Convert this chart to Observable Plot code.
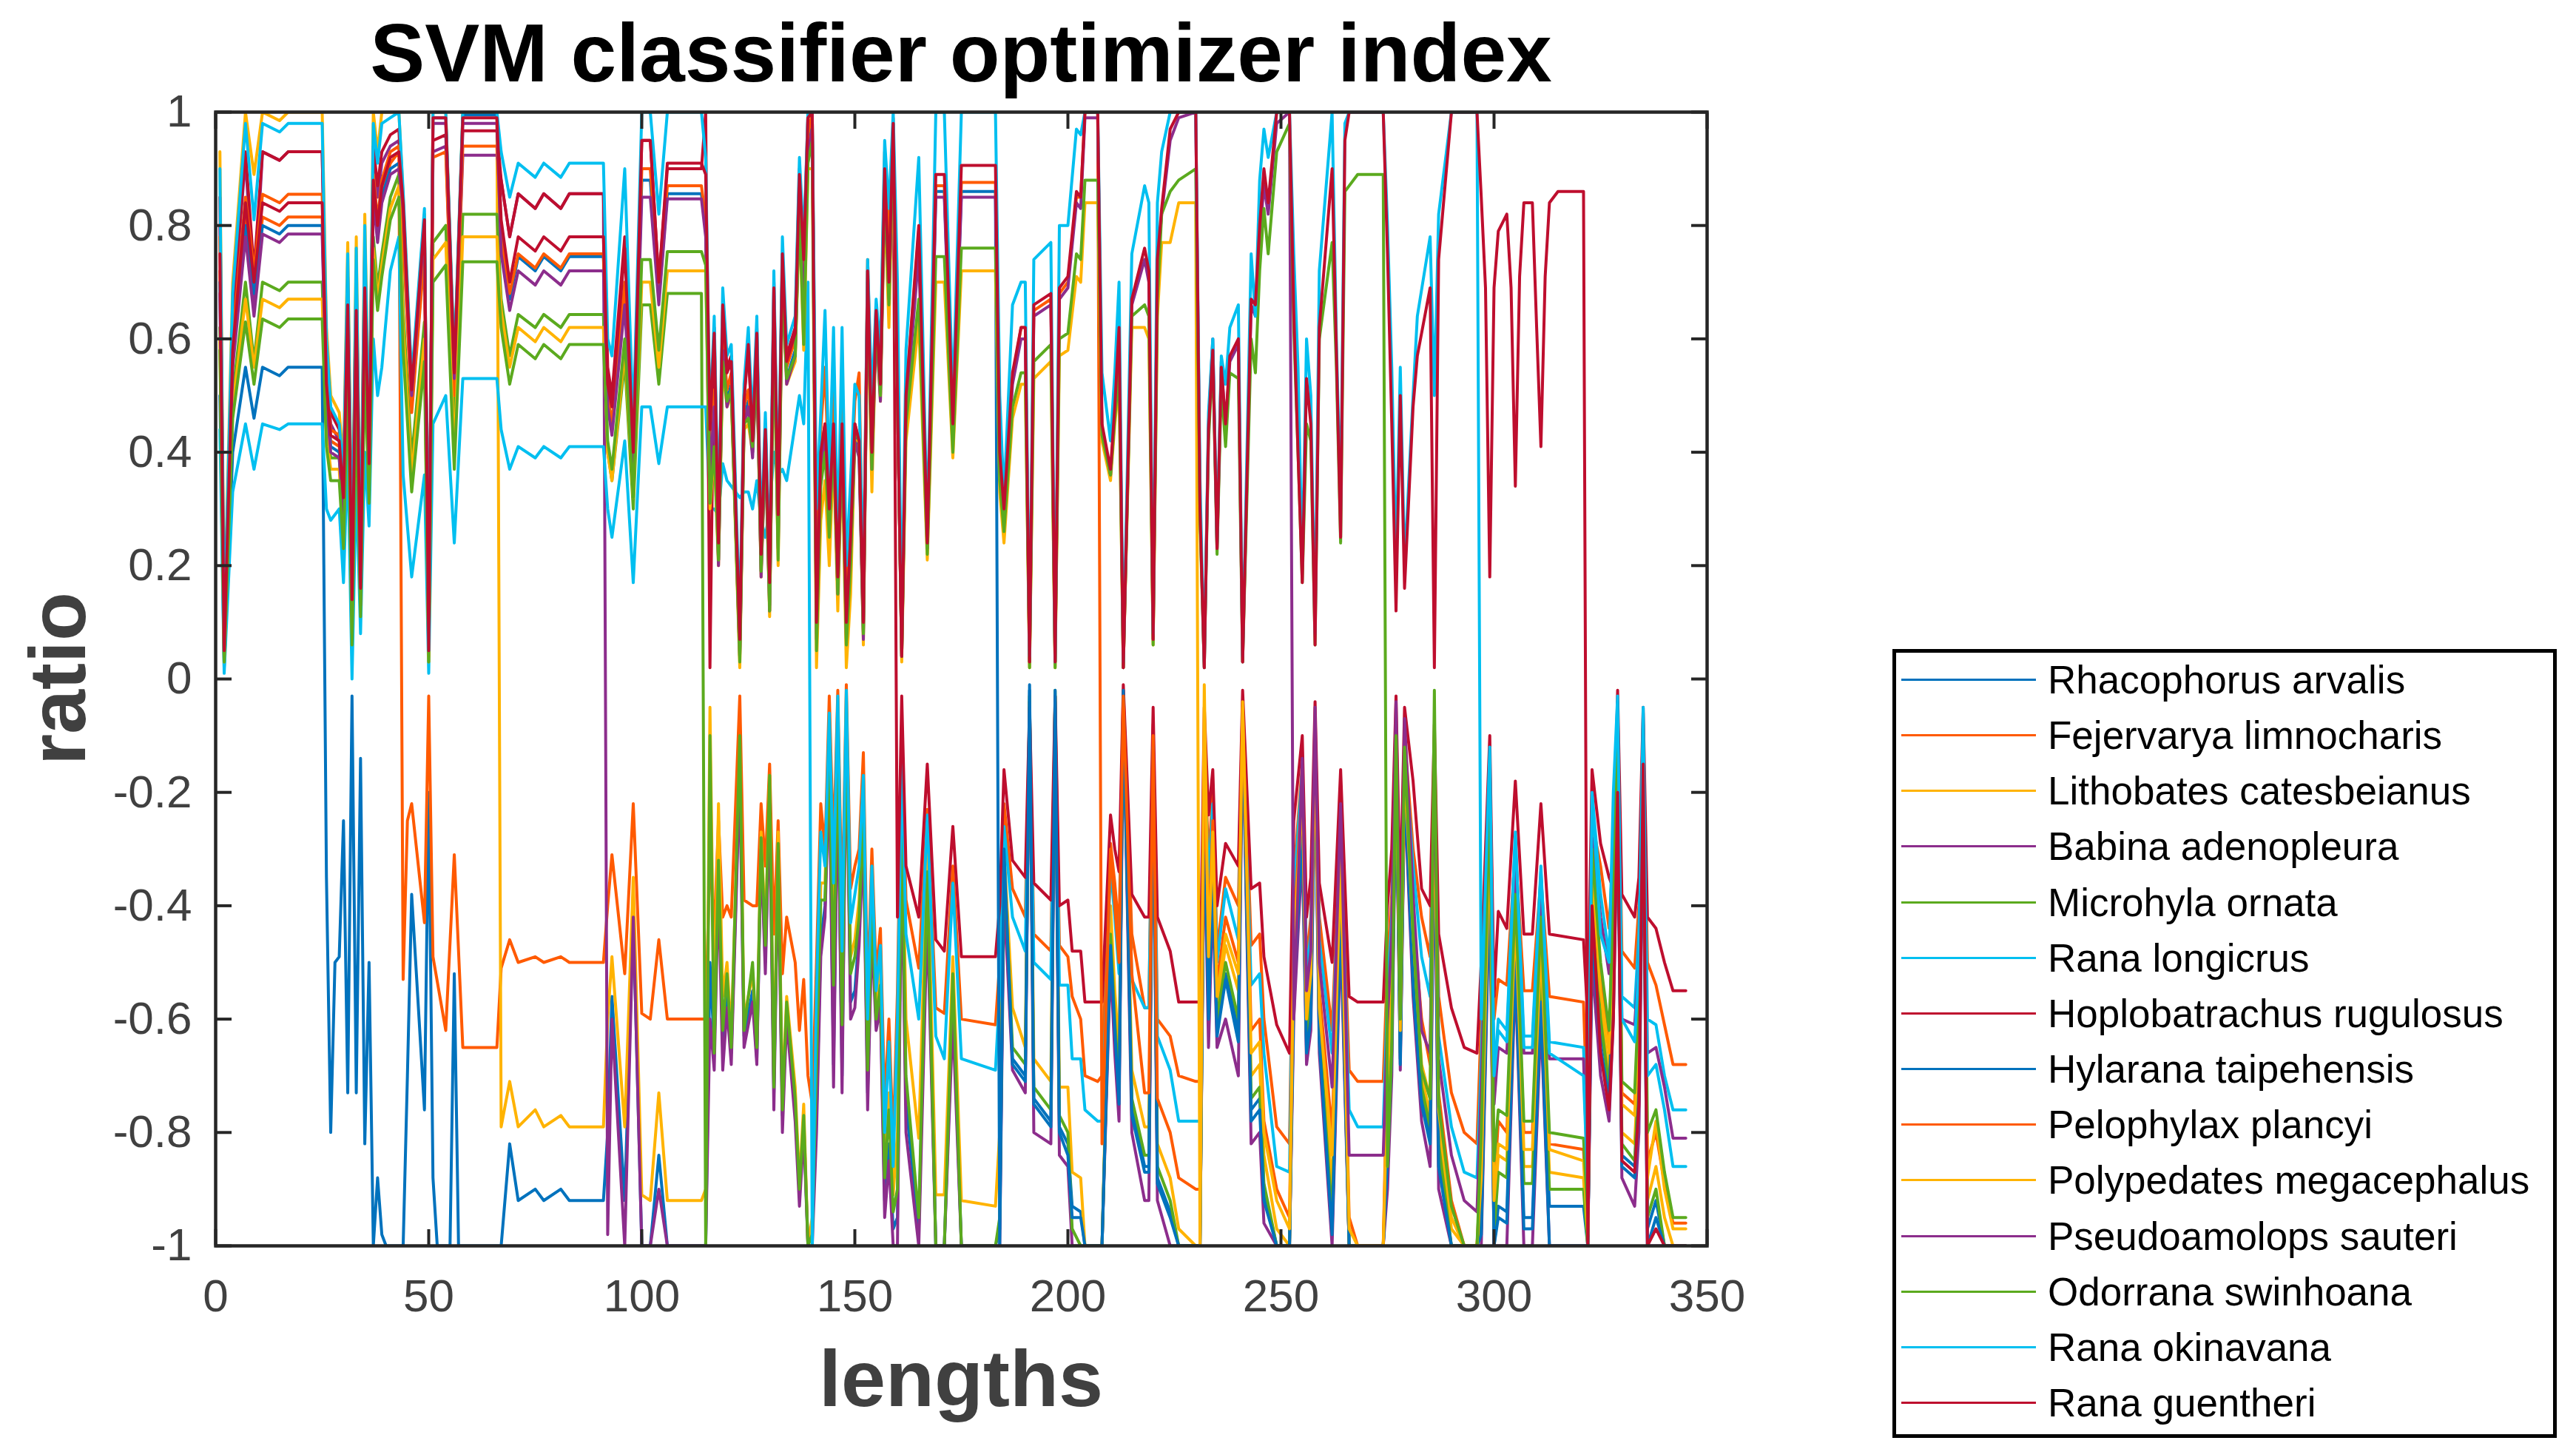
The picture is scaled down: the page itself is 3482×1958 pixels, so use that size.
<!DOCTYPE html>
<html><head><meta charset="utf-8">
<script src="https://cdn.jsdelivr.net/npm/d3@7"></script>
<script src="https://cdn.jsdelivr.net/npm/@observablehq/plot@0.6"></script>
<style>
html,body{margin:0;padding:0;background:#fff;}
#wrap{position:relative;width:3482px;height:1958px;overflow:hidden;font-family:"Liberation Sans",Arial,sans-serif;}
#plot{position:absolute;left:0;top:0;}
.title{position:absolute;left:291px;width:2016px;top:17px;height:110px;line-height:110px;text-align:center;font-weight:bold;font-size:111px;color:#000;white-space:nowrap;}
.xlabel{position:absolute;left:291px;width:2016px;top:1809px;height:108px;line-height:108px;text-align:center;font-weight:bold;font-size:108px;color:#404040;}
.ylabel{position:absolute;left:-688px;width:1532px;top:863px;height:108px;line-height:108px;text-align:center;font-weight:bold;font-size:108px;color:#404040;transform:rotate(-90deg);transform-origin:50% 50%;}
.legend{position:absolute;left:2558px;top:877px;width:898px;height:1066px;box-sizing:border-box;border:5px solid #000;background:#fff;}
.lrow{position:absolute;left:0;height:60px;width:880px;}
.lline{position:absolute;left:7px;width:182px;top:28px;height:0;border-top:3.5px solid #000;}
.ltext{position:absolute;left:205px;top:0;height:60px;line-height:60px;font-size:53px;color:#000;white-space:nowrap;}
</style>
</head><body>
<div id="wrap">
  <div id="plot"></div>
  <div class="title">SVM classifier optimizer index</div>
  <div class="xlabel">lengths</div>
  <div class="ylabel">ratio</div>
  <div class="legend" id="legend"></div>
</div>
<script>
const seriesNames = ["Rhacophorus arvalis","Fejervarya limnocharis","Lithobates catesbeianus","Babina adenopleura","Microhyla ornata","Rana longicrus","Hoplobatrachus rugulosus","Hylarana taipehensis","Pelophylax plancyi","Polypedates megacephalus","Pseudoamolops sauteri","Odorrana swinhoana","Rana okinavana","Rana guentheri"];
const seriesColors = ["#0072BD","#FF5A00","#FFB300","#8C2D8C","#5BAA1E","#00BFF0","#BE0E2E","#0072BD","#FF5A00","#FFB300","#8C2D8C","#5BAA1E","#00BFF0","#BE0E2E"];
const xTicks = [0,50,100,150,200,250,300,350];
const xTickLabels = ["0","50","100","150","200","250","300","350"];
const yTicks = [-1,-0.8,-0.6,-0.4,-0.2,0,0.2,0.4,0.6,0.8,1];
const yTickLabels = ["-1","-0.8","-0.6","-0.4","-0.2","0","0.2","0.4","0.6","0.8","1"];

// each series: flat list of (length, ratio) pairs
const rhacophorusArvalis = [1,.5,2,.02,4,.4,7,.55,9,.46,11,.55,15,.535,17,.55,25,.55,
26,-.35,27,-.8,28,-.5,29,-.49,30,-.25,31,-.73,32,-.03,33,-.73,34,-.14,35,-.82,36,-.5,37,-1,38,-.88,39,-.98,40,-1,43,-1,
44,-1,45,-.7,46,-.38,49,-.76,50,-.2,51,-.88,52,-1,55,-1,56,-.52,57,-1,66,-1,
67,-1,69,-.82,71,-.92,75,-.9,77,-.92,81,-.9,83,-.92,91,-.92,
92,-.8,93,-.56,96,-.92,98,-.42,100,-1,102,-1,104,-.84,106,-1,114,-1,
115,-1,116,-.5,117,-.65,118,-.3,119,-.65,120,-.55,121,-.66,123,-.15,124,-.63,126,-.55,127,-.67,128,-.29,129,-.5,130,-.2,131,-.73,132,-.3,133,-.77,134,-.58,136,-.75,137,-.91,138,-.78,139,-1,
140,-.97,141,-.77,142,-.46,143,-.4,144,-.14,145,-.68,146,-.14,147,-.7,148,-.07,149,-.57,150,-.55,151,-.45,152,-.26,153,-.73,154,-.43,155,-.6,156,-.56,157,-.92,158,-.82,159,-.97,
160,-.95,161,-.27,162,-.75,165,-.97,167,-.37,169,-1,171,-1,173,-.56,175,-1,183,-1,
184,-.97,185,-.34,187,-.67,190,-.7,191,-.02,192,-.74,196,-.78,197,-.03,198,-.79,200,-.82,201,-.93,203,-.94,204,-1,207,-1,
208,-1,210,-.46,211,-.61,212,-.74,213,-.03,215,-.75,218,-.86,219,-.86,220,-.12,221,-.88,224,-.94,226,-1,230,-1,
231,-1,232,-.2,233,-.57,234,-.33,235,-.62,237,-.52,240,-.62,241,-.06,243,-.76,245,-.74,246,-.9,249,-1,252,-1,
253,-.55,255,-.26,256,-.65,257,-.58,258,-.12,259,-.63,262,-.97,264,-.4,266,-1,274,-1,
275,-.82,276,-.64,277,-.12,278,-.67,279,-.17,281,-.52,283,-.73,285,-.8,286,-.2,287,-.84,290,-1,296,-1,
297,-.97,299,-.3,300,-1,301,-.93,303,-.94,305,-.48,307,-.95,309,-.95,311,-.55,313,-.93,321,-.93,
322,-1,323,-.42,325,-.62,327,-.71,328,-.3,329,-.06,330,-.84,333,-.86,334,-.72,335,-.08,336,-.97,338,-.92,340,-1,345,-1];

const fejervaryaLimnocharis = [1,.72,2,.05,4,.57,7,.81,9,.69,11,.815,15,.8,17,.815,25,.815,
26,.51,27,.42,29,.41,30,.31,31,.65,32,.13,33,.64,34,.15,35,.68,36,.37,37,.87,38,.79,39,.86,41,.91,43,.93,
44,-.53,45,-.25,46,-.22,49,-.43,50,-.03,51,-.49,54,-.62,56,-.31,58,-.65,66,-.65,
67,-.51,69,-.46,71,-.5,75,-.49,77,-.5,81,-.49,83,-.5,91,-.5,
92,-.4,93,-.31,96,-.52,98,-.22,100,-.59,102,-.6,104,-.46,106,-.6,114,-.6,
115,-.6,116,-.3,117,-.45,118,-.25,119,-.42,120,-.4,121,-.42,123,-.03,124,-.39,126,-.4,127,-.4,128,-.22,129,-.33,130,-.15,131,-.45,132,-.25,133,-.52,134,-.42,136,-.5,137,-.62,138,-.53,139,-.7,
140,-.75,141,-.5,142,-.22,143,-.3,144,-.03,145,-.3,146,-.02,147,-.42,148,-.01,149,-.37,150,-.33,151,-.3,152,-.13,153,-.56,154,-.3,155,-.52,156,-.44,157,-.75,158,-.6,159,-.82,
160,-.55,161,-.1,162,-.39,165,-.51,167,-.23,169,-.58,171,-.59,173,-.33,175,-.6,183,-.61,
184,-.5,185,-.22,187,-.37,190,-.42,191,-.06,192,-.45,196,-.48,197,-.04,198,-.47,200,-.49,201,-.56,203,-.6,204,-.7,207,-.71,
208,-.7,210,-.29,211,-.36,212,-.45,213,-.02,215,-.45,218,-.58,219,-.58,220,-.08,221,-.6,224,-.63,226,-.7,230,-.71,
231,-.71,232,-.1,233,-.32,234,-.2,235,-.48,237,-.35,240,-.4,241,-.04,243,-.47,245,-.45,246,-.6,249,-.79,252,-.82,
253,-.35,255,-.15,256,-.5,257,-.42,258,-.08,259,-.42,262,-.62,264,-.25,266,-.69,268,-.71,274,-.71,
275,-.5,276,-.38,277,-.07,278,-.45,279,-.1,281,-.3,283,-.42,285,-.49,286,-.1,287,-.56,290,-.73,293,-.8,296,-.82,
297,-.6,299,-.15,300,-.6,301,-.53,303,-.54,305,-.3,307,-.55,309,-.55,311,-.35,313,-.56,321,-.57,
322,-.8,323,-.25,325,-.33,327,-.44,328,-.3,329,-.05,330,-.48,333,-.51,334,-.4,335,-.08,336,-.5,338,-.54,340,-.61,342,-.68,345,-.68];

const lithobatesCatesbeianus = [1,.93,2,.1,4,.7,7,1,9,.89,11,1,15,.985,17,1,25,1,
26,.62,27,.5,29,.47,30,.38,31,.77,32,.2,33,.78,34,.2,35,.82,36,.42,37,1,38,.93,39,1,41,1,43,1,
44,.85,46,.52,49,.82,50,.05,51,1,54,1,56,.55,58,1,66,1,
67,-.79,69,-.71,71,-.79,75,-.76,77,-.79,81,-.77,83,-.79,91,-.79,
92,-.6,93,-.49,96,-.79,98,-.35,100,-.91,102,-.92,104,-.73,106,-.92,114,-.92,
115,-.9,116,-.05,117,-.6,118,-.22,119,-.56,120,-.5,121,-.63,123,-.12,124,-.6,126,-.52,127,-.64,128,-.27,129,-.45,130,-.17,131,-.7,132,-.27,133,-.74,134,-.56,136,-.72,137,-.89,138,-.75,139,-1,
140,-.95,141,-.65,142,-.36,143,-.36,144,-.1,145,-.51,146,-.08,147,-.58,148,-.05,149,-.49,150,-.46,151,-.39,152,-.21,153,-.66,154,-.38,155,-.57,156,-.51,157,-.85,158,-.73,159,-.91,
160,-.8,161,-.2,162,-.6,165,-.81,167,-.29,169,-.91,171,-.91,173,-.49,175,-.92,183,-.93,
184,-.8,185,-.3,187,-.58,190,-.65,191,-.04,192,-.67,196,-.71,197,-.03,198,-.72,200,-.72,201,-.87,203,-.88,204,-1,207,-1,
208,-1,210,-.4,211,-.55,212,-.66,213,-.04,215,-.69,218,-.79,219,-.79,220,-.13,221,-.82,224,-.88,226,-.97,230,-1,
231,-1,232,-.17,233,-.52,234,-.3,235,-.58,237,-.47,240,-.55,241,-.07,243,-.7,245,-.68,246,-.84,249,-.97,252,-1,
253,-.5,255,-.22,256,-.62,257,-.54,258,-.12,259,-.6,262,-.9,264,-.35,266,-1,274,-1,
275,-.75,276,-.58,277,-.12,278,-.64,279,-.16,281,-.48,283,-.7,285,-.77,286,-.2,287,-.79,290,-.97,293,-1,296,-1,
297,-.92,299,-.27,300,-.95,301,-.84,303,-.85,305,-.44,307,-.86,309,-.86,311,-.5,313,-.87,321,-.88,
322,-1,323,-.38,325,-.58,327,-.7,328,-.5,329,-.16,330,-.8,333,-.82,334,-.66,335,-.16,336,-.92,338,-.86,340,-.95,342,-1,345,-1];

const babinaAdenopleura = [1,.8,2,.06,4,.63,7,.92,9,.66,11,.93,15,.915,17,.93,25,.93,
26,.55,27,.45,29,.42,30,.33,31,.69,32,.15,33,.7,34,.16,35,.74,36,.38,37,.92,38,.85,39,.91,41,.94,43,.95,
44,.79,46,.48,49,.76,50,.05,51,.93,54,.94,56,.51,58,.924,66,.924,
67,.88,69,.78,71,.856,75,.83,77,.856,81,.83,83,.856,91,.856,
92,-.98,93,-.6,96,-1,98,-.42,100,-1,102,-1,104,-.9,106,-1,114,-1,
115,-1,116,-.6,117,-.69,118,-.36,119,-.69,120,-.58,121,-.68,123,-.17,124,-.65,126,-.57,127,-.68,128,-.3,129,-.52,130,-.22,131,-.76,132,-.32,133,-.8,134,-.6,136,-.78,137,-.93,138,-.8,139,-1,
140,-1,141,-.8,142,-.49,143,-.42,144,-.16,145,-.72,146,-.16,147,-.73,148,-.08,149,-.6,150,-.58,151,-.47,152,-.28,153,-.76,154,-.45,155,-.62,156,-.58,157,-.95,158,-.85,159,-1,
160,-1,161,-.3,162,-.8,165,-1,167,-.42,169,-1,171,-1,173,-.6,175,-1,183,-1,
184,-1,185,-.38,187,-.69,190,-.73,191,-.04,192,-.8,196,-.82,197,-.05,198,-.84,200,-.86,201,-1,207,-1,
208,-1,210,-.5,211,-.66,212,-.78,213,-.05,215,-.8,218,-.92,219,-.92,220,-.15,221,-.92,224,-1,230,-1,
231,-1,232,-.25,233,-.65,234,-.38,235,-.65,237,-.6,240,-.7,241,-.08,243,-.82,245,-.8,246,-.96,249,-1,252,-1,
253,-.6,255,-.3,256,-.68,257,-.62,258,-.15,259,-.66,262,-1,264,-.45,266,-1,274,-1,
275,-.9,276,-.7,277,-.15,278,-.69,279,-.2,281,-.56,283,-.78,285,-.86,286,-.25,287,-.9,290,-1,296,-1,
297,-1,299,-.35,300,-1,301,-1,303,-1,305,-.52,307,-1,309,-1,311,-.6,313,-1,321,-1,
322,-1,323,-.5,325,-.7,327,-.78,328,-.6,329,-.22,330,-.88,333,-.93,334,-.8,335,-.22,336,-1,338,-1,345,-1];

const microhylaOrnata = [1,.62,2,.03,4,.5,7,.7,9,.56,11,.7,15,.685,17,.7,25,.7,
26,.45,27,.39,29,.39,30,.27,31,.57,32,.1,33,.54,34,.15,35,.59,36,.35,37,.78,38,.69,39,.75,41,.85,43,.89,
44,.65,46,.39,49,.63,50,.04,51,.77,54,.8,56,.43,58,.82,66,.82,
67,.67,69,.57,71,.643,75,.62,77,.643,81,.62,83,.643,91,.643,
92,.4,93,.35,96,.56,98,.3,100,.66,102,.66,104,.52,106,.68,114,.68,
115,-1,116,-.1,117,-.66,118,-.32,119,-.62,120,-.52,121,-.65,123,-.1,124,-.62,126,-.5,127,-.65,128,-.28,129,-.47,130,-.17,131,-.72,132,-.29,133,-.76,134,-.57,136,-.74,137,-.9,138,-.77,139,-1,
140,-.98,141,-.68,142,-.39,143,-.39,144,-.13,145,-.54,146,-.11,147,-.61,148,-.08,149,-.52,150,-.49,151,-.42,152,-.24,153,-.69,154,-.41,155,-.6,156,-.54,157,-.88,158,-.76,159,-.94,
160,-.9,161,-.25,162,-.7,165,-.95,167,-.34,169,-1,171,-1,173,-.52,175,-1,183,-1,
184,-.95,185,-.32,187,-.65,190,-.68,191,-.03,192,-.72,196,-.76,197,-.02,198,-.77,200,-.8,201,-.97,203,-1,207,-1,
208,-1,210,-.45,211,-.6,212,-.72,213,-.03,215,-.74,218,-.84,219,-.84,220,-.14,221,-.86,224,-.92,226,-1,230,-1,
231,-1,232,-.2,233,-.55,234,-.32,235,-.6,237,-.5,240,-.6,241,-.05,243,-.74,245,-.72,246,-.89,249,-1,252,-1,
253,-.52,255,-.25,256,-.64,257,-.56,258,-.1,259,-.62,262,-.95,264,-.38,266,-1,274,-1,
275,-.8,276,-.6,277,-.1,278,-.66,279,-.15,281,-.5,283,-.72,285,-.79,286,-.18,287,-.82,290,-1,296,-1,
297,-.95,299,-.3,300,-.98,301,-.87,303,-.88,305,-.46,307,-.89,309,-.89,311,-.52,313,-.9,321,-.9,
322,-1,323,-.4,325,-.6,327,-.72,328,-.52,329,-.18,330,-.82,333,-.85,334,-.7,335,-.18,336,-.95,338,-.9,340,-1,345,-1];

const ranaLongicrus = [1,.44,2,.01,4,.33,7,.45,9,.37,11,.45,15,.44,17,.45,25,.45,
26,.3,27,.28,29,.3,30,.17,31,.4,32,0,33,.35,34,.08,35,.4,36,.27,37,.6,38,.5,39,.55,41,.72,43,.78,
44,.36,46,.18,49,.36,50,.01,51,.45,54,.5,56,.24,58,.53,66,.53,
67,.44,69,.37,71,.41,75,.39,77,.41,81,.39,83,.41,91,.41,
92,.3,93,.25,96,.42,98,.17,100,.48,102,.48,104,.38,106,.48,114,.48,
115,.48,116,.3,117,.3,118,.29,119,.38,120,.35,121,.34,123,.32,124,.33,125,.33,126,.3,127,.35,128,.28,129,.25,130,.3,131,.4,132,.36,133,.37,134,.35,136,.45,137,.5,138,.45,139,.7,
140,-1,141,-.55,142,-.27,143,-.33,144,-.06,145,-.36,146,-.03,147,-.48,148,-.02,149,-.43,150,-.38,151,-.33,152,-.17,153,-.6,154,-.33,155,-.55,156,-.47,157,-.8,158,-.64,159,-.86,
160,-.6,161,-.15,162,-.45,165,-.6,167,-.24,169,-.63,171,-.67,173,-.36,175,-.67,183,-.69,
184,-.55,185,-.26,187,-.42,190,-.48,191,-.06,192,-.5,196,-.53,197,-.04,198,-.54,200,-.54,201,-.67,203,-.67,204,-.76,207,-.78,
208,-.78,210,-.33,211,-.42,212,-.52,213,-.03,215,-.53,218,-.58,219,-.58,220,-.1,221,-.63,224,-.69,226,-.78,230,-.78,
231,-.78,232,-.12,233,-.36,234,-.22,235,-.5,237,-.37,240,-.46,241,-.05,243,-.54,245,-.52,246,-.66,249,-.86,252,-.87,
253,-.38,255,-.16,256,-.52,257,-.45,258,-.09,259,-.46,262,-.66,264,-.27,266,-.76,268,-.79,274,-.79,
275,-.55,276,-.42,277,-.08,278,-.5,279,-.12,281,-.33,283,-.49,285,-.56,286,-.12,287,-.63,290,-.79,293,-.87,296,-.88,
297,-.67,299,-.14,300,-.7,301,-.6,303,-.62,305,-.28,307,-.63,309,-.63,311,-.34,313,-.64,321,-.65,
322,-.85,323,-.2,325,-.38,327,-.49,328,-.25,329,-.04,330,-.56,333,-.58,334,-.45,335,-.06,336,-.6,338,-.61,340,-.7,342,-.76,345,-.76];

const hoplobatrachusRugulosus = [1,.85,2,.07,4,.65,7,.93,9,.72,11,.93,15,.915,17,.93,25,.93,
26,.57,27,.47,29,.44,30,.35,31,.71,32,.17,33,.72,34,.18,35,.76,36,.4,37,.94,38,.87,39,.93,41,.96,43,.97,
44,.8,46,.49,49,.77,50,.05,51,.95,54,.96,56,.52,58,.967,66,.967,
67,.88,69,.78,71,.856,75,.83,77,.856,81,.83,83,.856,91,.856,
92,.55,93,.5,96,.78,98,.42,100,.95,102,.95,104,.7,106,.9,114,.9,
115,1,116,.02,117,.62,118,.25,119,.65,120,.55,121,.57,123,.05,124,.5,125,.58,126,.43,127,.62,128,.22,129,.45,130,.15,131,.7,132,.28,133,.75,134,.57,136,.62,137,.9,138,.75,139,1,
140,1,141,.1,142,.4,143,.45,144,.3,145,.46,146,.18,147,.46,148,.1,149,.25,150,.45,151,.42,152,.1,153,.72,154,.4,155,.65,156,.52,157,.9,158,.7,159,.98,
160,-.42,161,-.03,162,-.33,165,-.42,167,-.15,169,-.46,171,-.48,173,-.26,175,-.49,183,-.49,
184,-.4,185,-.16,187,-.32,190,-.35,191,-.05,192,-.36,196,-.39,197,-.03,198,-.4,200,-.39,201,-.48,203,-.48,204,-.57,207,-.57,
208,-.57,210,-.24,211,-.3,212,-.34,213,-.01,215,-.38,218,-.42,219,-.42,220,-.05,221,-.42,224,-.48,226,-.57,230,-.57,
231,-.57,232,-.05,233,-.24,234,-.16,235,-.4,237,-.29,240,-.33,241,-.02,243,-.37,245,-.36,246,-.49,249,-.61,252,-.66,
253,-.25,255,-.1,256,-.42,257,-.35,258,-.04,259,-.36,262,-.5,264,-.16,266,-.56,268,-.57,274,-.57,
275,-.4,276,-.3,277,-.03,278,-.39,279,-.05,281,-.18,283,-.37,285,-.4,286,-.08,287,-.45,290,-.58,293,-.65,296,-.66,
297,-.5,299,-.1,300,-.56,301,-.41,303,-.44,305,-.18,307,-.45,309,-.45,311,-.22,313,-.45,321,-.46,
322,-.6,323,-.16,325,-.29,327,-.35,328,-.37,329,-.02,330,-.38,333,-.42,334,-.35,335,-.05,336,-.42,338,-.44,340,-.5,342,-.55,345,-.55];

const hylaranaTaipehensis = [1,.7,2,.05,4,.56,7,.8,9,.68,11,.8,15,.785,17,.8,25,.8,
26,.5,27,.41,29,.4,30,.3,31,.64,32,.12,33,.63,34,.14,35,.67,36,.36,37,.86,38,.78,39,.85,41,.9,43,.91,
44,.84,46,.51,49,.81,50,.05,51,.99,54,.99,56,.54,58,.995,66,.995,
67,.77,69,.67,71,.745,75,.72,77,.745,81,.72,83,.745,91,.745,
92,.5,93,.45,96,.68,98,.38,100,.88,102,.88,104,.67,106,.856,114,.856,
115,.79,116,.37,117,.49,118,.21,119,.59,120,.49,121,.52,123,.04,124,.46,125,.49,126,.4,127,.57,128,.19,129,.42,130,.13,131,.65,132,.24,133,.72,134,.53,136,.58,137,.85,138,.65,139,.94,
140,.98,141,.08,142,.38,143,.43,144,.28,145,.44,146,.16,147,.44,148,.08,149,.23,150,.43,151,.4,152,.08,153,.7,154,.38,155,.64,156,.51,157,.88,158,.68,159,.97,
160,.5,161,.04,162,.48,165,.78,167,.23,169,.86,171,.86,173,.43,175,.86,183,.86,
184,-1,185,-.3,187,-.68,190,-.71,191,-.01,192,-.75,196,-.79,197,-.02,198,-.8,200,-.84,201,-.95,203,-.95,204,-1,207,-1,
208,-1,210,-.47,211,-.62,212,-.75,213,-.02,215,-.77,218,-.87,219,-.87,220,-.12,221,-.89,224,-.95,226,-1,230,-1,
231,-1,232,-.22,233,-.6,234,-.35,235,-.63,237,-.53,240,-.64,241,-.06,243,-.78,245,-.76,246,-.92,249,-1,252,-1,
253,-.56,255,-.27,256,-.66,257,-.6,258,-.13,259,-.64,262,-.98,264,-.41,266,-1,274,-1,
275,-.85,276,-.66,277,-.13,278,-.68,279,-.18,281,-.54,283,-.75,285,-.82,286,-.22,287,-.86,290,-1,296,-1,
297,-.98,299,-.32,300,-1,301,-.95,303,-.96,305,-.5,307,-.97,309,-.97,311,-.57,313,-1,321,-1,
322,-1,323,-.45,325,-.65,327,-.74,328,-.55,329,-.2,330,-.86,333,-.88,334,-.74,335,-.2,336,-1,338,-.95,340,-1,345,-1];

const pelophylaxPlancyi = [1,.78,2,.06,4,.6,7,.85,9,.72,11,.855,15,.84,17,.855,25,.855,
26,.53,27,.44,29,.43,30,.33,31,.67,32,.15,33,.66,34,.17,35,.7,36,.39,37,.89,38,.81,39,.88,41,.93,43,.94,
44,.78,46,.47,49,.75,50,.04,51,.92,54,.93,56,.5,58,.94,66,.94,
67,.78,69,.68,71,.75,75,.725,77,.75,81,.725,83,.75,91,.75,
92,.5,93,.45,96,.7,98,.4,100,.9,102,.9,104,.68,106,.87,114,.87,
115,.81,116,.39,117,.51,118,.23,119,.61,120,.51,121,.54,123,.06,124,.48,125,.51,126,.42,127,.59,128,.21,129,.44,130,.15,131,.67,132,.26,133,.74,134,.55,136,.6,137,.87,138,.67,139,.96,
140,1,141,.2,142,.44,143,.55,144,.33,145,.54,146,.2,147,.54,148,.15,149,.3,150,.49,151,.54,152,.13,153,.74,154,.45,155,.66,156,.55,157,.93,158,.77,159,.99,
160,.5,161,.05,162,.5,165,.79,167,.24,169,.87,171,.87,173,.44,175,.876,183,.876,
184,.38,185,.29,187,.53,189,.62,190,.62,191,.03,192,.65,196,.67,197,.03,198,.68,200,.7,202,.85,203,.85,204,1,207,1,
208,-.82,210,-.3,211,-.4,212,-.5,213,-.03,215,-.52,218,-.73,219,-.73,220,-.1,221,-.74,224,-.8,226,-.88,230,-.9,
231,-.9,232,-.15,233,-.45,234,-.25,235,-.54,237,-.42,240,-.5,241,-.05,243,-.62,245,-.6,246,-.78,249,-.9,252,-.95,
253,-.45,255,-.18,256,-.58,257,-.5,258,-.1,259,-.55,262,-.8,264,-.3,266,-.95,268,-1,274,-1,
275,-.65,276,-.5,277,-.1,278,-.58,279,-.14,281,-.42,283,-.6,285,-.68,286,-.15,287,-.73,290,-.92,293,-1,296,-1,
297,-.85,299,-.22,300,-.9,301,-.78,303,-.8,305,-.4,307,-.8,309,-.8,311,-.45,313,-.82,321,-.83,
322,-.97,323,-.32,325,-.52,327,-.64,328,-.42,329,-.12,330,-.73,333,-.75,334,-.6,335,-.12,336,-.85,338,-.8,340,-.89,342,-.96,345,-.96];

const polypedatesMegacephalus = [1,.6,2,.03,4,.48,7,.67,9,.55,11,.67,15,.655,17,.67,25,.67,
26,.43,27,.37,29,.37,30,.25,31,.55,32,.08,33,.52,34,.13,35,.57,36,.33,37,.76,38,.67,39,.73,41,.83,43,.87,
44,.62,46,.36,49,.6,50,.03,51,.74,54,.77,56,.4,58,.78,66,.78,
67,.65,69,.55,71,.62,75,.595,77,.62,81,.595,83,.62,91,.62,
92,.4,93,.35,96,.58,98,.32,100,.7,102,.7,104,.55,106,.72,114,.72,
115,.72,116,.3,117,.4,118,.2,119,.55,120,.48,121,.5,123,.02,124,.44,125,.45,126,.4,127,.55,128,.18,129,.42,130,.11,131,.62,132,.2,133,.7,134,.52,136,.56,137,.82,138,.58,139,.9,
140,.9,141,.02,142,.28,143,.35,144,.2,145,.4,146,.12,147,.4,148,.02,149,.15,150,.42,151,.42,152,.06,153,.67,154,.33,155,.63,156,.49,157,.85,158,.62,159,.95,
160,.5,161,.03,162,.42,165,.63,167,.21,169,.7,171,.7,173,.39,175,.72,183,.72,
184,.33,185,.24,187,.46,189,.52,190,.52,191,.02,192,.53,196,.56,197,.02,198,.57,200,.58,202,.71,203,.7,204,.84,207,.84,
208,.42,210,.35,211,.45,212,.52,213,.02,215,.62,218,.62,219,.6,220,.06,221,.64,222,.77,224,.77,226,.84,230,.84,
231,-1,232,-.01,233,-.49,234,-.27,235,-.56,237,-.45,240,-.52,241,-.04,243,-.66,245,-.64,246,-.8,249,-.92,252,-.97,
253,-.48,255,-.2,256,-.6,257,-.52,258,-.11,259,-.58,262,-.84,264,-.32,266,-.97,268,-1,274,-1,
275,-.7,276,-.55,277,-.11,278,-.62,279,-.15,281,-.45,283,-.68,285,-.74,286,-.17,287,-.76,290,-.95,293,-1,296,-1,
297,-.88,299,-.25,300,-.92,301,-.82,303,-.83,305,-.42,307,-.83,309,-.83,311,-.47,313,-.83,321,-.85,
322,-.98,323,-.35,325,-.55,327,-.66,328,-.45,329,-.14,330,-.75,333,-.77,334,-.62,335,-.14,336,-.88,338,-.78,340,-.9,342,-.97,345,-.97];

const pseudoamolopsSauteri = [1,.68,2,.04,4,.55,7,.78,9,.64,11,.785,15,.77,17,.785,25,.785,
26,.49,27,.4,29,.39,30,.29,31,.63,32,.11,33,.62,34,.13,35,.66,36,.35,37,.85,38,.77,39,.84,41,.89,43,.9,
44,.83,46,.5,49,.8,50,.05,51,.98,54,.98,56,.53,58,.98,66,.98,
67,.75,69,.65,71,.72,75,.695,77,.72,81,.695,83,.72,91,.72,
92,.48,93,.43,96,.66,98,.37,100,.85,102,.85,104,.66,106,.847,114,.847,
115,.78,116,.36,117,.48,118,.2,119,.58,120,.48,121,.51,123,.04,124,.45,125,.48,126,.39,127,.56,128,.18,129,.41,130,.12,131,.64,132,.23,133,.71,134,.52,136,.57,137,.84,138,.64,139,.93,
140,.97,141,.07,142,.37,143,.42,144,.27,145,.43,146,.15,147,.43,148,.07,149,.22,150,.42,151,.39,152,.07,153,.69,154,.37,155,.62,156,.49,157,.87,158,.67,159,.95,
160,.5,161,.04,162,.47,165,.75,167,.23,169,.85,171,.85,173,.42,175,.85,183,.85,
184,.37,185,.28,187,.52,189,.6,190,.6,191,.03,192,.64,196,.66,197,.03,198,.67,200,.69,202,.84,203,.83,204,.99,207,.99,
208,.44,210,.36,211,.47,212,.6,213,.02,215,.66,218,.74,219,.7,220,.07,221,.73,222,.82,224,.95,226,.99,230,1,
231,.3,232,.02,233,.45,234,.6,235,.23,236,.56,237,.44,238,.56,240,.59,241,.03,243,.66,244,.64,245,.78,246,.87,247,.82,249,.98,252,1,
253,-.6,255,-.14,256,-.55,257,-.48,258,-.05,259,-.5,262,-.72,264,-.22,266,-.84,268,-.84,274,-.84,
275,-.6,276,-.45,277,-.04,278,-.55,279,-.07,281,-.38,283,-.62,285,-.66,286,-.12,287,-.67,290,-.84,293,-.92,296,-.94,
297,-.72,299,-.18,300,-.75,301,-.65,303,-.66,305,-.32,307,-.66,309,-.66,311,-.37,313,-.67,321,-.67,
322,-.9,323,-.28,325,-.42,327,-.52,328,-.35,329,-.08,330,-.6,333,-.61,334,-.5,335,-.1,336,-.66,338,-.65,340,-.72,342,-.81,345,-.81];

const odorranaSwinhoana = [1,.58,2,.03,4,.46,7,.63,9,.52,11,.635,15,.62,17,.635,25,.635,
26,.41,27,.35,29,.35,30,.23,31,.53,32,.06,33,.5,34,.11,35,.55,36,.31,37,.74,38,.65,39,.71,41,.81,43,.85,
44,.58,46,.33,49,.56,50,.03,51,.7,54,.73,56,.37,58,.736,66,.736,
67,.62,69,.52,71,.59,75,.565,77,.59,81,.565,83,.59,91,.59,
92,.42,93,.37,96,.6,98,.32,100,.74,102,.74,104,.58,106,.754,114,.754,
115,.73,116,.31,117,.41,118,.21,119,.56,120,.49,121,.51,123,.03,124,.45,125,.46,126,.41,127,.56,128,.19,129,.43,130,.12,131,.63,132,.21,133,.71,134,.53,136,.57,137,.83,138,.59,139,.91,
140,.95,141,.05,142,.34,143,.4,144,.25,145,.43,146,.15,147,.43,148,.06,149,.2,150,.44,151,.42,152,.08,153,.7,154,.37,155,.64,156,.5,157,.88,158,.66,159,.97,
160,.5,161,.04,162,.45,165,.67,167,.22,169,.745,171,.745,173,.4,175,.76,183,.76,
184,.35,185,.26,187,.48,189,.54,190,.54,191,.02,192,.56,196,.59,197,.02,198,.6,200,.61,202,.75,203,.74,204,.88,207,.88,
208,.43,210,.36,211,.46,212,.54,213,.02,215,.64,218,.66,219,.64,220,.06,221,.67,222,.82,224,.86,226,.88,230,.9,
231,.28,232,.02,233,.42,234,.57,235,.22,236,.52,237,.41,238,.54,240,.53,241,.03,243,.6,244,.54,245,.72,246,.83,247,.75,249,.93,252,.98,
253,.62,254,.4,255,.17,256,.45,257,.42,258,.06,259,.6,262,.77,263,.55,264,.24,265,.86,266,.87,268,.89,274,.89,
275,-.86,276,-.65,277,-.1,278,-.6,279,-.12,281,-.45,283,-.69,285,-.74,286,-.02,287,-.75,290,-.93,293,-1,296,-1,
297,-.8,299,-.2,300,-.85,301,-.76,303,-.77,305,-.38,307,-.78,309,-.78,311,-.42,313,-.8,321,-.81,
322,-.95,323,-.3,325,-.5,327,-.62,328,-.4,329,-.1,330,-.71,333,-.73,334,-.55,335,-.1,336,-.8,338,-.76,340,-.87,342,-.95,345,-.95];

const ranaOkinavana = [1,.9,2,.08,4,.68,7,.98,9,.81,11,.98,15,.965,17,.98,25,.98,
26,.6,27,.48,29,.45,30,.36,31,.75,32,.18,33,.76,34,.18,35,.8,36,.4,37,.98,38,.91,39,.98,41,.99,43,1,
44,.86,46,.53,49,.83,50,.05,51,1,54,1,56,.56,58,1,66,1,
67,.93,69,.85,71,.91,75,.885,77,.91,81,.885,83,.91,91,.91,
92,.6,93,.57,96,.9,98,.45,100,1,102,1,104,.82,106,1,114,1,
115,.92,116,.45,117,.64,118,.27,119,.69,120,.57,121,.59,123,.1,124,.52,125,.62,126,.45,127,.64,128,.25,129,.47,130,.2,131,.72,132,.32,133,.78,134,.59,136,.64,137,.92,138,.77,139,1,
140,1,141,.3,142,.47,143,.65,144,.35,145,.62,146,.23,147,.62,148,.2,149,.35,150,.52,151,.5,152,.16,153,.74,154,.49,155,.67,156,.58,157,.95,158,.83,159,1,
160,.7,161,.08,162,.58,165,.92,167,.26,169,1,171,1,173,.49,175,1,183,1,
184,.5,185,.32,187,.66,189,.7,190,.7,191,.04,192,.74,196,.77,197,.03,198,.8,200,.8,202,.97,203,.96,204,1,207,1,
208,.54,210,.42,211,.54,212,.7,213,.03,215,.75,218,.87,219,.84,220,.08,221,.84,222,.93,224,1,226,1,230,1,
231,.35,232,.03,233,.47,234,.6,235,.24,236,.57,237,.52,238,.62,240,.66,241,.04,243,.75,244,.64,245,.88,246,.97,247,.92,249,1,252,1,
253,.75,254,.55,255,.2,256,.6,257,.5,258,.08,259,.72,262,1,263,.6,264,.3,265,.98,266,1,268,1,274,1,
275,.8,276,.55,277,.2,278,.55,279,.2,281,.5,282,.64,285,.78,286,.5,287,.82,290,1,296,1,
297,-.6,299,-.12,300,-.7,301,-.62,303,-.64,305,-.27,307,-.65,309,-.65,311,-.33,313,-.66,321,-.7,
322,-.9,323,-.2,325,-.45,327,-.5,328,-.2,329,-.03,330,-.6,333,-.64,334,-.5,335,-.05,336,-.7,338,-.68,340,-.76,342,-.86,345,-.86];

const ranaGuentheri = [1,.75,2,.05,4,.58,7,.84,9,.7,11,.84,15,.825,17,.84,25,.84,
26,.52,27,.43,29,.42,30,.32,31,.66,32,.14,33,.65,34,.16,35,.69,36,.38,37,.88,38,.8,39,.87,41,.92,43,.93,
44,.84,46,.51,49,.81,50,.05,51,.99,54,.99,56,.54,58,.99,66,.99,
67,.81,69,.7,71,.78,75,.755,77,.78,81,.755,83,.78,91,.78,
92,.52,93,.48,96,.76,98,.4,100,.95,102,.95,104,.7,106,.91,114,.91,
115,.89,116,.44,117,.61,118,.24,119,.66,120,.54,121,.56,123,.07,124,.49,125,.59,126,.42,127,.61,128,.22,129,.44,130,.17,131,.69,132,.29,133,.75,134,.56,136,.61,137,.89,138,.74,139,.99,
140,1,141,.1,142,.4,143,.45,144,.3,145,.45,146,.18,147,.45,148,.1,149,.25,150,.45,151,.42,152,.1,153,.72,154,.4,155,.65,156,.52,157,.9,158,.7,159,.98,
160,.5,161,.04,162,.5,165,.8,167,.24,169,.89,171,.89,173,.45,175,.906,183,.906,
184,.4,185,.3,187,.54,189,.62,190,.62,191,.03,192,.66,196,.68,197,.03,198,.69,200,.71,202,.86,203,.85,204,1,207,1,
208,.45,210,.37,211,.48,212,.62,213,.02,215,.67,218,.76,219,.72,220,.07,221,.74,222,.83,224,.97,226,1,230,1,
231,.3,232,.02,233,.44,234,.58,235,.23,236,.55,237,.45,238,.57,240,.6,241,.03,243,.67,244,.66,245,.8,246,.9,247,.84,249,1,252,1,
253,.65,254,.4,255,.17,256,.53,257,.45,258,.06,259,.62,262,.9,263,.58,264,.25,265,.95,266,1,268,1,274,1,
275,.75,276,.45,277,.12,278,.5,279,.16,281,.48,282,.57,285,.69,286,.02,287,.74,290,1,296,1,
297,.85,298,.69,299,.18,300,.69,301,.79,303,.82,304,.69,305,.34,306,.71,307,.84,309,.84,310,.62,311,.41,312,.71,313,.84,315,.86,321,.86,
322,-1,323,-.4,325,-.66,327,-.76,328,-.6,329,-.2,330,-.85,333,-.87,334,-.75,335,-.15,336,-1,338,-.97,340,-1,345,-1];

const seriesValues = [rhacophorusArvalis, fejervaryaLimnocharis, lithobatesCatesbeianus, babinaAdenopleura, microhylaOrnata, ranaLongicrus, hoplobatrachusRugulosus, hylaranaTaipehensis, pelophylaxPlancyi, polypedatesMegacephalus, pseudoamolopsSauteri, odorranaSwinhoana, ranaOkinavana, ranaGuentheri];

const rows = [];
seriesValues.forEach((arr, s) => {
  for (let i = 0; i < arr.length; i += 2) rows.push({name: seriesNames[s], length: arr[i], ratio: arr[i + 1]});
});

const font = "Liberation Sans, Arial, Helvetica, sans-serif";
const tickOpts = {tickFormat: () => "", label: null, stroke: "#262626", strokeWidth: 4};
const chart = Plot.plot({
  width: 3482,
  height: 1958,
  marginLeft: 291,
  marginRight: 1175,
  marginTop: 151,
  marginBottom: 275,
  style: {fontFamily: font, background: "transparent", overflow: "visible"},
  x: {domain: [0, 350]},
  y: {domain: [-1, 1]},
  color: {domain: seriesNames, range: seriesColors},
  marks: [
    Plot.line(rows, {x: "length", y: "ratio", z: "name", stroke: "name", strokeWidth: 4, clip: true, strokeLinejoin: "round"}),
    Plot.frame({stroke: "#262626", strokeWidth: 4.5}),
    Plot.axisX(xTicks, {anchor: "bottom", tickSize: -22, ...tickOpts}),
    Plot.axisX(xTicks, {anchor: "top", tickSize: -22, ...tickOpts}),
    Plot.axisY(yTicks, {anchor: "left", tickSize: -22, ...tickOpts}),
    Plot.axisY(yTicks, {anchor: "right", tickSize: -22, ...tickOpts}),
    Plot.axisX(xTicks, {anchor: "bottom", tickSize: 0, tickPadding: 44, fontSize: 62, color: "#404040", label: null, tickFormat: d => xTickLabels[xTicks.indexOf(d)]}),
    Plot.axisY(yTicks, {anchor: "left", tickSize: 0, tickPadding: 32, fontSize: 62, color: "#404040", label: null, tickFormat: d => yTickLabels[yTicks.indexOf(d)]})
  ]
});
document.getElementById("plot").appendChild(chart);

const legend = document.getElementById("legend");
seriesNames.forEach((n, i) => {
  const row = document.createElement("div");
  row.className = "lrow";
  row.style.top = (37 + 75.15 * i - 30) + "px";
  const line = document.createElement("div");
  line.className = "lline";
  line.style.borderTopColor = seriesColors[i];
  const txt = document.createElement("div");
  txt.className = "ltext";
  txt.textContent = n;
  row.appendChild(line);
  row.appendChild(txt);
  legend.appendChild(row);
});
</script>
</body></html>
